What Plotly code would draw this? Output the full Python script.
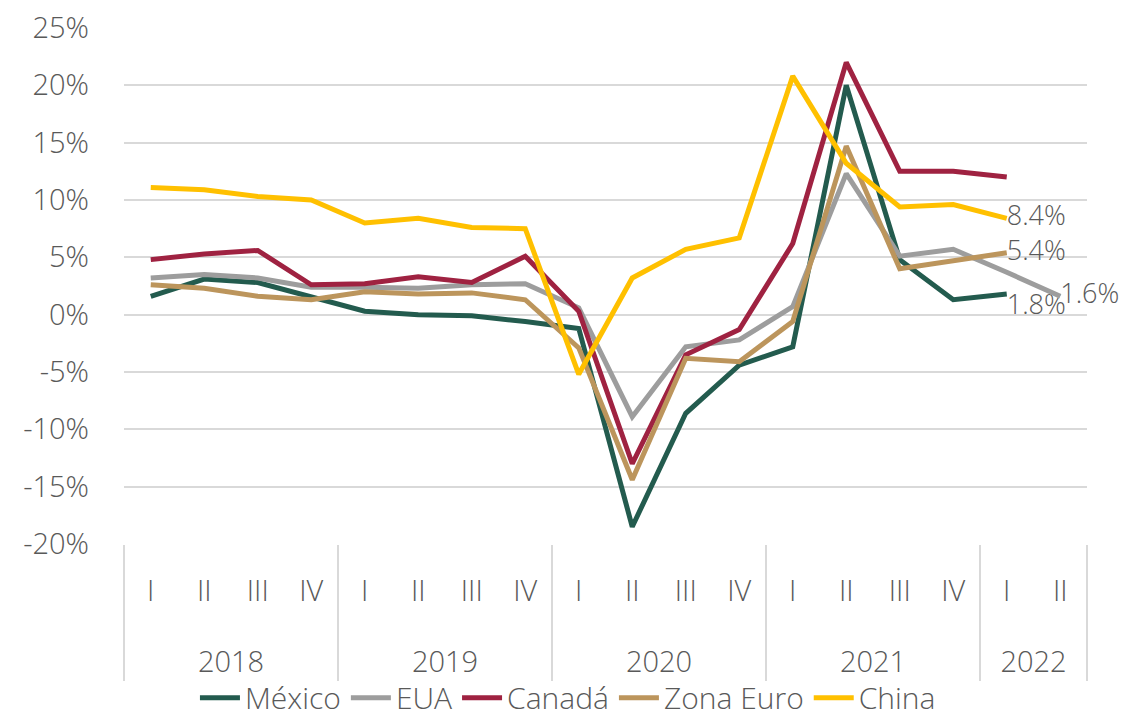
import plotly.graph_objects as go

years = ["2018", "2019", "2020", "2021", "2022"]
quarters_per_year = [4, 4, 4, 4, 2]
quarter_names = ["I", "II", "III", "IV"]
quarters = [q for n in quarters_per_year for q in quarter_names[:n]]

y_ticks = [-20, -15, -10, -5, 0, 5, 10, 15, 20, 25]
y_labels = [f"{v}%" for v in y_ticks]

mexico = [1.6, 3.1, 2.8, 1.6, 0.3, 0.0, -0.1, -0.6, -1.2, -18.5, -8.6, -4.4, -2.8, 20.0, 4.8, 1.3, 1.8, None]
eua = [3.2, 3.5, 3.2, 2.4, 2.4, 2.3, 2.6, 2.7, 0.6, -8.9, -2.8, -2.2, 0.7, 12.3, 5.1, 5.7, 3.7, 1.6]
canada = [4.8, 5.3, 5.6, 2.6, 2.7, 3.3, 2.8, 5.1, 0.3, -13.0, -3.5, -1.3, 6.2, 22.0, 12.5, 12.5, 12.0, None]
zona_euro = [2.6, 2.3, 1.6, 1.3, 2.0, 1.8, 1.9, 1.3, -2.9, -14.4, -3.8, -4.1, -0.6, 14.7, 4.0, 4.7, 5.4, None]
china = [11.1, 10.9, 10.3, 10.0, 8.0, 8.4, 7.6, 7.5, -5.2, 3.2, 5.7, 6.7, 20.8, 13.2, 9.4, 9.6, 8.4, None]

series = [
    ("México", mexico, "#235B4E", 16, "bottom right"),
    ("EUA", eua, "#9D9D9D", 17, "middle right"),
    ("Canadá", canada, "#9F2241", None, None),
    ("Zona Euro", zona_euro, "#BC955C", 16, "middle right"),
    ("China", china, "#FFC000", 16, "middle right"),
]

n = len(quarters)
idx = list(range(n))
bounds = [-0.5]
for k in quarters_per_year:
    bounds.append(bounds[-1] + k)
centres = [(bounds[i] + bounds[i + 1]) / 2 for i in range(len(years))]

FONT = "'Open Sans', 'Noto Sans', sans-serif"
TXT = "#595959"
GRID = "#d9d9d9"
FS = 29

fig = go.Figure()
for name, vals, color, lab_idx, pos in series:
    texts = [""] * len(vals)
    if lab_idx is not None:
        texts[lab_idx] = f"{vals[lab_idx]:.1f}%"
    fig.add_trace(go.Scatter(
        x=idx, y=vals, name=name,
        mode="lines+text" if lab_idx is not None else "lines",
        line=dict(color=color, width=5),
        text=texts, textposition=pos or "middle right",
        textfont=dict(size=27, color=TXT, family=FONT, weight=300),
        cliponaxis=False, connectgaps=False, hoverinfo="x+y+name",
    ))

# helper traces so the year-level and divider axes are rendered
fig.add_trace(go.Scatter(x=centres, y=[None] * len(centres), xaxis="x2",
                         mode="lines", showlegend=False, hoverinfo="skip"))
fig.add_trace(go.Scatter(x=bounds, y=[None] * len(bounds), xaxis="x3",
                         mode="lines", showlegend=False, hoverinfo="skip"))

xr = [-0.5, n - 0.5]
fig.update_layout(
    width=1121, height=709,
    margin=dict(l=116, r=42, t=20, b=173, autoexpand=False),
    paper_bgcolor="white", plot_bgcolor="white",
    font=dict(family=FONT, color=TXT, size=FS, weight=300),
    showlegend=True,
    legend=dict(orientation="h", x=0.461, xanchor="center", y=-0.298, yanchor="middle",
                bgcolor="rgba(0,0,0,0)",
                font=dict(size=30, color=TXT, weight=300), tracegroupgap=0,
                itemwidth=40),
    xaxis=dict(range=xr, tickvals=idx, ticktext=quarters, showgrid=False,
               showline=False, zeroline=False, ticks="",
               tickfont=dict(size=FS, color=TXT, weight=300), ticklabelstandoff=27),
    xaxis2=dict(range=xr, overlaying="x", anchor="y", side="bottom",
                tickvals=centres, ticktext=years, showgrid=False, showline=False,
                zeroline=False, ticks="",
                tickfont=dict(size=FS, color=TXT, weight=300), ticklabelstandoff=98),
    xaxis3=dict(range=xr, overlaying="x", anchor="y", side="bottom",
                tickvals=bounds, showticklabels=False, showgrid=False, showline=False,
                zeroline=False, ticks="outside", ticklen=136, tickwidth=1.5,
                tickcolor=GRID),
    yaxis=dict(range=[-20, 25], tickvals=y_ticks, ticktext=y_labels, showgrid=True,
               gridcolor=GRID, gridwidth=1.5, zeroline=False, showline=False,
               ticklabeloverflow="allow",
               tickfont=dict(size=FS, color=TXT, weight=300), ticklabelstandoff=34),
)

fig.write_html("out.html")
